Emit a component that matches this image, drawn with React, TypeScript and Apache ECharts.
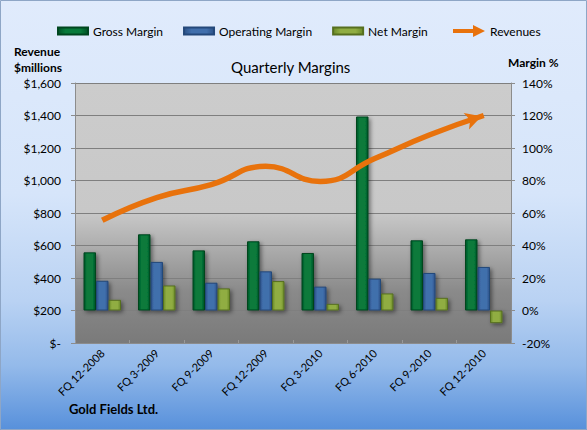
import React, { useEffect, useRef } from "react";
import * as echarts from "echarts";

const categories = [
  "FQ 12-2008",
  "FQ 3-2009",
  "FQ 9-2009",
  "FQ 12-2009",
  "FQ 3-2010",
  "FQ 6-2010",
  "FQ 9-2010",
  "FQ 12-2010",
];
const grossMargin = [35.8, 46.9, 37.0, 42.6, 35.4, 119.4, 43.2, 43.8];
const operatingMargin = [18.3, 29.9, 17.1, 24.1, 14.7, 19.6, 23.1, 26.8];
const netMargin = [6.6, 15.4, 13.6, 18.1, 4.1, 10.5, 7.8, -7.8];
const revenues = [755, 895, 975, 1087, 994, 1135, 1280, 1400];

const revenueAxis = { min: 0, max: 1600, interval: 200 };
const marginAxis = { min: -20, max: 140, interval: 20 };

const FONT = "Lato, 'Open Sans', sans-serif";
const ORANGE = "#e8720c";

function barGrad(edge: string, mid: string) {
  return new echarts.graphic.LinearGradient(0, 0, 1, 0, [
    { offset: 0, color: edge },
    { offset: 0.25, color: mid },
    { offset: 0.75, color: mid },
    { offset: 1, color: edge },
  ]);
}

export default function App() {
  const ref = useRef<HTMLDivElement>(null);

  useEffect(() => {
    document.body.style.margin = "0";
    if (!ref.current) return;
    const chart = echarts.init(ref.current, undefined, { renderer: "svg" });

    const barShadow = {
      shadowBlur: 4,
      shadowColor: "rgba(0,0,0,0.45)",
      shadowOffsetX: 2,
      shadowOffsetY: 2,
    };

    const lineData = revenues.map((v, i) =>
      i === revenues.length - 1
        ? {
            value: v,
            symbol: "arrow",
            symbolSize: [13, 16],
            symbolRotate: -72,
            symbolOffset: [-2.2, 0.7],
            itemStyle: { color: ORANGE },
          }
        : { value: v }
    );

    chart.setOption({
      animation: false,
      backgroundColor: new echarts.graphic.LinearGradient(0, 0, 0, 1, [
        { offset: 0, color: "#e0ebfc" },
        { offset: 0.45, color: "#d6e5fa" },
        { offset: 0.7, color: "#b9d2f3" },
        { offset: 0.85, color: "#94baea" },
        { offset: 1, color: "#5790db" },
      ]),
      textStyle: { fontFamily: FONT, color: "#000" },
      title: {
        text: "Quarterly Margins",
        left: 226,
        top: 54,
        textStyle: { fontFamily: FONT, fontSize: 15, fontWeight: "normal", color: "#000" },
      },
      legend: [
        {
          data: ["Gross Margin", "Operating Margin", "Net Margin"],
          left: 52,
          top: 20,
          itemWidth: 30,
          itemHeight: 7,
          itemGap: 20,
          icon: "rect",
          textStyle: { fontFamily: FONT, fontSize: 12, color: "#000" },
        },
        {
          data: [
            {
              name: "Revenues",
              icon: "path://M0,4 L20,4 L20,0 L32,6 L20,12 L20,8 L0,8 Z",
            },
          ],
          left: 448,
          top: 20,
          itemWidth: 32,
          itemHeight: 12,
          textStyle: { fontFamily: FONT, fontSize: 12, color: "#000" },
        },
      ],
      graphic: [
        {
          type: "rect",
          shape: { x: 0.5, y: 0.5, width: 586, height: 429 },
          style: { fill: "none", stroke: "#8ea6c6", lineWidth: 1 },
          silent: true,
        },
        {
          type: "text",
          left: 14,
          top: 45,
          style: { text: "Revenue", font: `bold 12px ${FONT}`, fill: "#000" },
        },
        {
          type: "text",
          left: 14,
          top: 61,
          style: { text: "$millions", font: `bold 12px ${FONT}`, fill: "#000" },
        },
        {
          type: "text",
          left: 508,
          top: 56,
          style: { text: "Margin %", font: `bold 12px ${FONT}`, fill: "#000" },
        },
        {
          type: "text",
          left: 69,
          top: 402,
          style: { text: "Gold Fields Ltd.", font: `bold 13px ${FONT}`, fill: "#000" },
        },
      ],
      grid: {
        left: 75,
        right: 76,
        top: 83,
        bottom: 87,
        show: true,
        borderWidth: 0,
        backgroundColor: new echarts.graphic.LinearGradient(0, 0, 0, 1, [
          { offset: 0, color: "#cccccc" },
          { offset: 0.5, color: "#c8c8c8" },
          { offset: 0.8, color: "#8a8a8a" },
          { offset: 1, color: "#7a7a7a" },
        ]),
      },
      xAxis: {
        type: "category",
        data: categories,
        axisLine: { show: true, lineStyle: { color: "#8c8c8c", width: 1 } },
        axisTick: { show: true, inside: true, length: 3, lineStyle: { color: "#999999" } },
        axisLabel: {
          rotate: 45,
          fontSize: 11,
          fontFamily: FONT,
          color: "#000",
          margin: 8,
        },
      },
      yAxis: [
        {
          type: "value",
          position: "left",
          min: revenueAxis.min,
          max: revenueAxis.max,
          interval: revenueAxis.interval,
          axisLine: { show: true, lineStyle: { color: "#8c8c8c" } },
          axisTick: { show: true, length: 4, lineStyle: { color: "#8c8c8c" } },
          splitLine: { show: true, lineStyle: { color: "#7f7f7f", width: 1 } },
          axisLabel: {
            fontSize: 12,
            fontFamily: FONT,
            color: "#000",
            margin: 14,
            formatter: (v: number) =>
              v === 0 ? "$-" : "$" + v.toLocaleString("en-US"),
          },
        },
        {
          type: "value",
          position: "right",
          min: marginAxis.min,
          max: marginAxis.max,
          interval: marginAxis.interval,
          axisLine: { show: true, lineStyle: { color: "#8c8c8c" } },
          axisTick: { show: true, length: 4, lineStyle: { color: "#8c8c8c" } },
          splitLine: { show: false },
          axisLabel: {
            fontSize: 12,
            fontFamily: FONT,
            color: "#000",
            margin: 11,
            formatter: (v: number) => v + "%",
          },
        },
      ],
      series: [
        {
          name: "Gross Margin",
          type: "bar",
          yAxisIndex: 1,
          data: grossMargin,
          barWidth: 12.5,
          barGap: "0%",
          itemStyle: {
            color: barGrad("#005226", "#087a3a"),
            borderColor: "#00461f",
            borderWidth: 1,
            ...barShadow,
          },
        },
        {
          name: "Operating Margin",
          type: "bar",
          yAxisIndex: 1,
          data: operatingMargin,
          barWidth: 12.5,
          barGap: "0%",
          itemStyle: {
            color: barGrad("#2c5288", "#416fac"),
            borderColor: "#24487a",
            borderWidth: 1,
            ...barShadow,
          },
        },
        {
          name: "Net Margin",
          type: "bar",
          yAxisIndex: 1,
          data: netMargin,
          barWidth: 12.5,
          barGap: "0%",
          itemStyle: {
            color: barGrad("#6a8a28", "#90ad42"),
            borderColor: "#566f1f",
            borderWidth: 1,
            ...barShadow,
          },
        },
        {
          name: "Revenues",
          type: "line",
          yAxisIndex: 0,
          data: lineData,
          smooth: 0.5,
          symbol: "none",
          showSymbol: true,
          lineStyle: { color: ORANGE, width: 5.5, cap: "butt" },
          itemStyle: { color: ORANGE },
          z: 5,
        },
      ],
    });

    return () => chart.dispose();
  }, []);

  return <div ref={ref} style={{ width: 587, height: 430 }} />;
}
